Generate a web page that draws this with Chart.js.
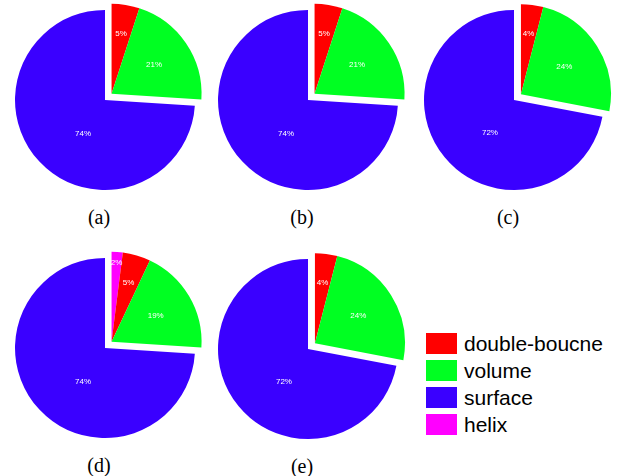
<!DOCTYPE html>
<html>
<head>
<meta charset="utf-8">
<script src="https://cdn.jsdelivr.net/npm/chart.js@4"></script>
<style>
  body { margin: 0; background: #fff; width: 630px; height: 476px; position: relative; overflow: hidden;
         font-family: "Liberation Sans", Arial, sans-serif; }
  .pie { position: absolute; }
  .cap { position: absolute; font-family: "Liberation Serif", "Times New Roman", serif; font-size: 20px;
         line-height: 1; transform: translate(-50%, -50%); color: #000; }
  #legend { position: absolute; left: 426px; top: 330px; }
  .row { display: flex; align-items: center; height: 27px; font-size: 21px; color: #000; }
  .sw { width: 31px; height: 21px; margin-right: 7px; box-sizing: border-box; }
</style>
</head>
<body>
<div id="legend"></div>
<script>
// Slice categories, in clockwise drawing order starting at 12 o'clock
const categories = ['helix', 'double-boucne', 'volume', 'surface'];
const legendOrder = ['double-boucne', 'volume', 'surface', 'helix'];
const sliceColors = { 'helix': '#ff00ff', 'double-boucne': '#ff0000', 'volume': '#00ff22', 'surface': '#3a00ff' };

// Panel captions and percentage shares per panel
const panelNames = ['(a)', '(b)', '(c)', '(d)', '(e)'];
const helixShare        = [0, 0, 0, 2, 0];
const doubleBounceShare = [5, 5, 4, 5, 4];
const volumeShare       = [21, 21, 24, 19, 24];
const surfaceShare      = [74, 74, 72, 74, 72];

// Pie centres on the page
const panelCenters = [[105, 100], [308, 100], [514, 100], [105, 348], [308, 349]];
const PIE_BOX = 200;

// Explodes a group of slices together along the group's mid angle and writes the percentages
const explodeGroup = {
  id: 'explodeGroup',
  beforeDatasetDraw(chart, args, opts) {
    const ctx = chart.ctx;
    const meta = args.meta;
    const values = chart.data.datasets[args.index].data;
    const total = values.reduce((a, b) => a + b, 0);
    const live = meta.data.map((el, i) => ({ el, i, v: values[i] })).filter(o => o.v > 0);

    const grouped = live.filter(o => opts.exploded.includes(o.i));
    let sx = 0, sy = 0;
    if (grouped.length) {
      const s = Math.min(...grouped.map(o => o.el.startAngle));
      const e = Math.max(...grouped.map(o => o.el.endAngle));
      const mid = (s + e) / 2;
      sx = Math.cos(mid) * opts.distance;
      sy = Math.sin(mid) * opts.distance;
    }
    const maxV = Math.max(...values);

    live.forEach(o => {
      ctx.save();
      if (opts.exploded.includes(o.i)) ctx.translate(sx, sy);
      o.el.draw(ctx, chart.chartArea);
      ctx.restore();
    });

    ctx.save();
    ctx.fillStyle = '#ffffff';
    ctx.font = '8px "Liberation Sans", Arial, sans-serif';
    ctx.textAlign = 'center';
    ctx.textBaseline = 'middle';
    live.forEach(o => {
      const p = o.el.getProps(['x', 'y', 'startAngle', 'endAngle', 'outerRadius'], true);
      const frac = o.v / total;
      let ang = (p.startAngle + p.endAngle) / 2;
      let dist;
      if (o.v === maxV) { ang -= 14 * Math.PI / 180; dist = 0.45; }
      else if (frac < 0.03) dist = 0.88;
      else if (frac < 0.1) dist = 0.68;
      else dist = 0.57;
      let x = p.x + Math.cos(ang) * p.outerRadius * dist;
      let y = p.y + Math.sin(ang) * p.outerRadius * dist;
      if (opts.exploded.includes(o.i)) { x += sx; y += sy; }
      ctx.fillText(o.v + '%', x, y);
    });
    ctx.restore();
    return false;
  }
};

panelNames.forEach((name, k) => {
  const [cx, cy] = panelCenters[k];
  const canvas = document.createElement('canvas');
  canvas.className = 'pie';
  canvas.width = PIE_BOX; canvas.height = PIE_BOX;
  canvas.style.width = PIE_BOX + 'px'; canvas.style.height = PIE_BOX + 'px';
  canvas.style.left = (cx - PIE_BOX / 2) + 'px';
  canvas.style.top = (cy - PIE_BOX / 2) + 'px';
  document.body.appendChild(canvas);

  new Chart(canvas, {
    type: 'pie',
    data: {
      labels: categories,
      datasets: [{
        data: [helixShare[k], doubleBounceShare[k], volumeShare[k], surfaceShare[k]],
        backgroundColor: categories.map(c => sliceColors[c]),
        borderWidth: 0
      }]
    },
    options: {
      responsive: false,
      animation: false,
      events: [],
      layout: { padding: 10 },
      plugins: {
        legend: { display: false },
        tooltip: { enabled: false },
        explodeGroup: { exploded: [0, 1, 2], distance: 9 }
      }
    },
    plugins: [explodeGroup]
  });

  const cap = document.createElement('div');
  cap.className = 'cap';
  cap.textContent = name;
  cap.style.left = (cx - 6) + 'px';
  cap.style.top = (cy + 117) + 'px';
  document.body.appendChild(cap);
});

// Shared legend
const legend = document.getElementById('legend');
legendOrder.forEach(c => {
  const row = document.createElement('div');
  row.className = 'row';
  const sw = document.createElement('div');
  sw.className = 'sw';
  sw.style.background = sliceColors[c];
  const label = document.createElement('span');
  label.textContent = c;
  row.appendChild(sw);
  row.appendChild(label);
  legend.appendChild(row);
});
</script>
</body>
</html>
